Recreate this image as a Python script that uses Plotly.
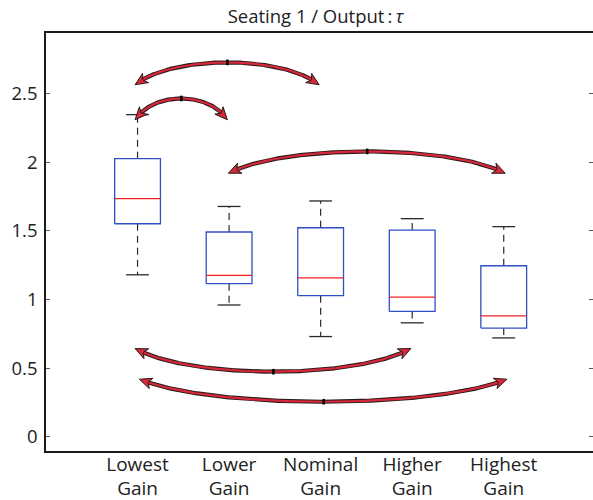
import numpy as np
import plotly.graph_objects as go

# ---------------- data ----------------
categories = ["Lowest<br>Gain", "Lower<br>Gain", "Nominal<br>Gain", "Higher<br>Gain", "Highest<br>Gain"]
lower_whisker = [1.18, 0.96, 0.73, 0.83, 0.72]
q1 = [1.552, 1.115, 1.028, 0.913, 0.792]
median = [1.735, 1.176, 1.157, 1.018, 0.880]
q3 = [2.026, 1.492, 1.523, 1.506, 1.246]
upper_whisker = [2.347, 1.678, 1.718, 1.589, 1.531]

y_ticks = [0, 0.5, 1, 1.5, 2, 2.5]
y_tick_labels = ["0", "0.5", "1", "1.5", "2", "2.5"]

# comparison arrows (start / end position on category axis, tip level, apex level)
arrow_x_start = [0.973, 0.973, 1.992, 0.973, 1.020]
arrow_x_end = [2.984, 1.981, 5.016, 3.986, 5.035]
arrow_y_tip = [2.565, 2.310, 1.920, 0.643, 0.419]
arrow_y_apex = [2.728, 2.465, 2.079, 0.474, 0.255]

# ---------------- layout geometry ----------------
W, H = 593, 500
ML, MR, MT, MB = 46, 0, 33, 49
X0, X1 = 0.0, 5.975
Y0, Y1 = -0.104, 2.942
PW = W - ML - MR
PH = H - MT - MB


def to_px(x, y):
    return ML + (x - X0) / (X1 - X0) * PW, MT + (Y1 - y) / (Y1 - Y0) * PH


def to_data(px, py):
    return X0 + (px - ML) / PW * (X1 - X0), Y1 - (py - MT) / PH * (Y1 - Y0)


fig = go.Figure()

BOX_HALF = 0.25
CAP_HALF = 0.125
pos = list(range(1, len(categories) + 1))

bx, by, mx, my, wx, wy, cx, cy = [], [], [], [], [], [], [], []
for i, c in enumerate(pos):
    bx += [c - BOX_HALF, c + BOX_HALF, c + BOX_HALF, c - BOX_HALF, c - BOX_HALF, None]
    by += [q1[i], q1[i], q3[i], q3[i], q1[i], None]
    mx += [c - BOX_HALF, c + BOX_HALF, None]
    my += [median[i], median[i], None]
    wx += [c, c, None, c, c, None]
    wy += [q3[i], upper_whisker[i], None, q1[i], lower_whisker[i], None]
    cx += [c - CAP_HALF, c + CAP_HALF, None, c - CAP_HALF, c + CAP_HALF, None]
    cy += [upper_whisker[i], upper_whisker[i], None, lower_whisker[i], lower_whisker[i], None]

fig.add_trace(go.Scatter(x=wx, y=wy, mode="lines",
                         line=dict(color="#2a2a2a", width=1.2, dash="7px,5px")))
fig.add_trace(go.Scatter(x=cx, y=cy, mode="lines", line=dict(color="#2a2a2a", width=1.3)))
fig.add_trace(go.Scatter(x=bx, y=by, mode="lines", line=dict(color="#2f4fc4", width=1.3)))
fig.add_trace(go.Scatter(x=mx, y=my, mode="lines", line=dict(color="#ee2020", width=1.3)))

# ---------------- curved double-headed arrows ----------------
HEAD_LEN, HEAD_W, NOTCH = 12.5, 5.5, 3.5
RED, DARK = "#d8283a", "#2a1c1c"
mark_x, mark_y = [], []
for i in range(len(arrow_x_start)):
    ax, ay = to_px(arrow_x_start[i], arrow_y_tip[i])
    bxp, _ = to_px(arrow_x_end[i], arrow_y_tip[i])
    _, apy = to_px(arrow_x_start[i], arrow_y_apex[i])
    span = bxp - ax
    k = 4.0 / 3.0 * (apy - ay)
    P0 = np.array([ax, ay]); P1 = np.array([ax + 0.2 * span, ay + k])
    P2 = np.array([bxp - 0.2 * span, ay + k]); P3 = np.array([bxp, ay])
    t = np.linspace(0, 1, 400)[:, None]
    pts = (1 - t) ** 3 * P0 + 3 * (1 - t) ** 2 * t * P1 + 3 * (1 - t) * t ** 2 * P2 + t ** 3 * P3
    d0 = np.hypot(*(pts - P0).T)
    d1 = np.hypot(*(pts - P3).T)
    body = pts[(d0 >= HEAD_LEN - NOTCH) & (d1 >= HEAD_LEN - NOTCH)]
    bdx, bdy = to_data(body[:, 0], body[:, 1])
    fig.add_trace(go.Scatter(x=bdx, y=bdy, mode="lines", line=dict(color=DARK, width=4.2)))
    fig.add_trace(go.Scatter(x=bdx, y=bdy, mode="lines", line=dict(color=RED, width=2.2)))
    for tip, dist in ((P0, d0), (P3, d1)):
        ref = pts[np.argmin(np.abs(dist - HEAD_LEN))]
        u = tip - ref
        u = u / np.hypot(*u)
        n = np.array([-u[1], u[0]])
        base = tip - u * HEAD_LEN
        poly = np.array([tip, base + n * HEAD_W, tip - u * (HEAD_LEN - NOTCH), base - n * HEAD_W, tip])
        hx, hy = to_data(poly[:, 0], poly[:, 1])
        fig.add_trace(go.Scatter(x=hx, y=hy, mode="lines", fill="toself", fillcolor=RED,
                                 line=dict(color=DARK, width=1)))
    mid = pts[len(pts) // 2]
    mxd, myd = to_data(mid[0], mid[1])
    mark_x.append(mxd); mark_y.append(myd)

fig.add_trace(go.Scatter(x=mark_x, y=mark_y, mode="markers",
                         marker=dict(symbol="line-ns", size=4, line=dict(color="#000000", width=2.5))))
# right-side tick axis (ticks only, no line)
fig.add_trace(go.Scatter(x=[1], y=[1], yaxis="y2", mode="markers", marker=dict(opacity=0)))

fig.update_layout(
    width=W, height=H,
    margin=dict(l=ML, r=MR, t=MT, b=MB, autoexpand=False),
    paper_bgcolor="white", plot_bgcolor="white",
    showlegend=False, hovermode=False,
    font=dict(family="Open Sans", size=18, color="#222222"),
    title=dict(text="Seating 1 / Output\u2009:\u2009<i>τ</i>", xref="container", x=0.532,
               xanchor="center", y=1 - 17 / H, yanchor="middle",
               font=dict(size=18.5, color="#222222")),
    xaxis=dict(range=[X0, X1], tickvals=pos, ticktext=categories, showgrid=False, zeroline=False,
               showline=True, mirror=True, linecolor="#1a1a1a", linewidth=1.5, ticks="",
               tickfont=dict(size=19), automargin=False, ticklabelstandoff=-5),
    yaxis=dict(range=[Y0, Y1], tickvals=y_ticks, ticktext=y_tick_labels, showgrid=False,
               zeroline=False, showline=True, mirror=False, linecolor="#1a1a1a", linewidth=1.5,
               ticks="inside", ticklen=4, tickcolor="#555555", tickwidth=1,
               tickfont=dict(size=18.5), automargin=False, ticklabelstandoff=3),
    yaxis2=dict(range=[Y0, Y1], overlaying="y", side="right", matches="y", tickvals=y_ticks,
                showticklabels=False, showgrid=False, zeroline=False, showline=False,
                ticks="inside", ticklen=4, tickcolor="#555555", tickwidth=1, automargin=False),
)

fig.write_html("out.html", config={"displayModeBar": False},
               post_script="document.body.style.margin='0';document.body.style.overflow='hidden';")
